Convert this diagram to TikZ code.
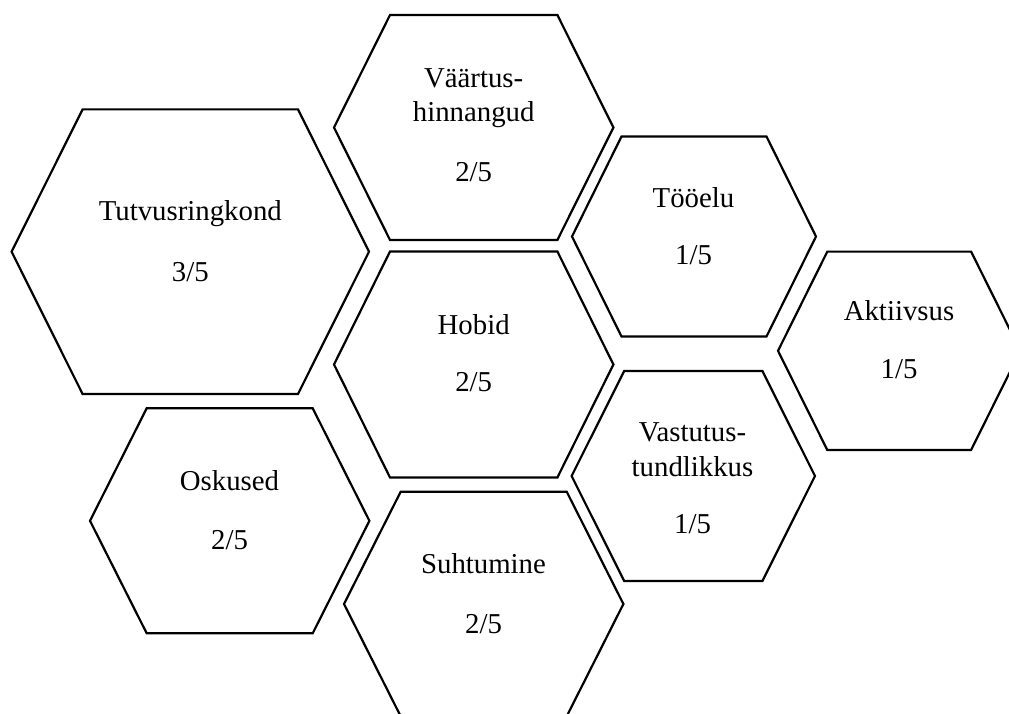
\documentclass[tikz,border=0pt]{standalone}
\usepackage{fontspec}
\setmainfont{Liberation Serif}
\begin{document}
\begin{tikzpicture}[x=1pt,y=-1pt,
  hexline/.style={line width=2.2pt,line join=miter},
  lbl/.style={anchor=base,inner sep=0pt,font=\fontsize{28.8}{33}\selectfont}]
\useasboundingbox (0,0) rectangle (1009,714);
\clip (0,0) rectangle (1009,714);
% #1 cx, #2 cy, #3 half width, #4 half height, #5 inset of the flat top
\newcommand\hexcell[5]{%
  \draw[hexline] (#1-#3,#2) -- (#1-#3+#5,#2-#4) -- (#1+#3-#5,#2-#4)
    -- (#1+#3,#2) -- (#1+#3-#5,#2+#4) -- (#1-#3+#5,#2+#4) -- cycle;}
\hexcell{190.3}{251.7}{178.7}{142.3}{71}
\hexcell{473.7}{127.5}{139.7}{112.5}{56}
\hexcell{694}{236.5}{122}{100}{49.5}
\hexcell{899.2}{350.8}{121.2}{99.2}{49.3}
\hexcell{473.7}{364.5}{139.7}{113}{56}
\hexcell{229.7}{520.8}{139.7}{112.5}{56.7}
\hexcell{693.3}{476}{121.7}{105}{52.6}
\hexcell{483.7}{604}{139.7}{112.3}{56.7}
% labels
\node[lbl] (tut) at (190.3,220) {Tutvusringkond};
\node[lbl] (tutS) at (190.3,281) {3/5};
\node[lbl] (vaa1) at (473.7,88) {Väärtus-};
\node[lbl] (vaa2) at (473.7,121.5) {hinnangud};
\node[lbl] (vaaS) at (473.7,181.5) {2/5};
\node[lbl] (too) at (693.5,207.5) {Tööelu};
\node[lbl] (tooS) at (693.5,264) {1/5};
\node[lbl] (akt) at (899,320.5) {Aktiivsus};
\node[lbl] (aktS) at (899,378.5) {1/5};
\node[lbl] (hob) at (473.7,334) {Hobid};
\node[lbl] (hobS) at (473.7,391.5) {2/5};
\node[lbl] (osk) at (229.5,490.5) {Oskused};
\node[lbl] (oskS) at (229.5,549) {2/5};
\node[lbl] (vas1) at (692.5,441.5) {Vastutus-};
\node[lbl] (vas2) at (692.5,476.5) {tundlikkus};
\node[lbl] (vasS) at (692.5,533.5) {1/5};
\node[lbl] (suh) at (483.5,573.5) {Suhtumine};
\node[lbl] (suhS) at (483.5,633.5) {2/5};
\end{tikzpicture}
\end{document}
